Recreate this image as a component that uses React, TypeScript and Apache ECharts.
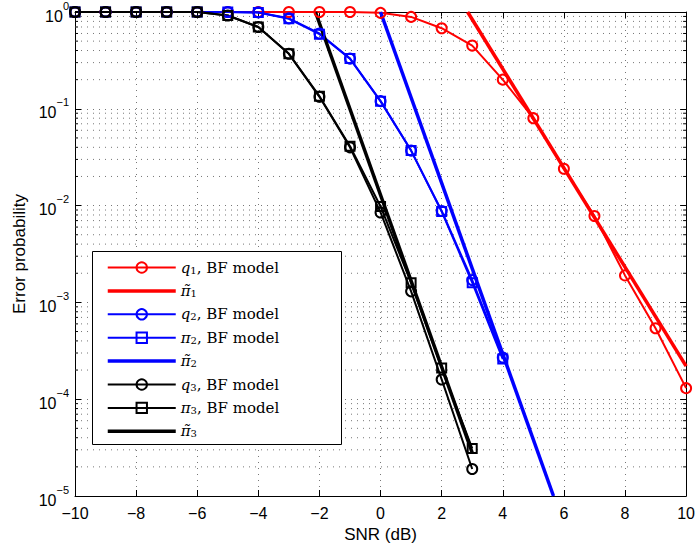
import React, { useEffect, useRef } from "react";
import * as echarts from "echarts";

const snr = [-10, -9, -8, -7, -6, -5, -4, -3, -2, -1, 0, 1, 2, 3, 4, 5, 6, 7, 8, 9, 10];
const q1Values = [1, 1, 1, 1, 1, 1, 1, 1, 1, 1, 0.98, 0.89, 0.68, 0.45, 0.2, 0.08, 0.024, 0.0078, 0.0019, 0.00054, 0.00013];
const q2Values = [1, 1, 1, 1, 1, 1, 0.99, 0.86, 0.6, 0.33, 0.12, 0.037, 0.0088, 0.0017, 0.00027];
const pi2Values = [1, 1, 1, 1, 1, 1, 0.99, 0.85, 0.59, 0.33, 0.12, 0.037, 0.0087, 0.0016, 0.00026];
const q3Values = [1, 1, 1, 1, 1, 0.92, 0.7, 0.37, 0.133, 0.04, 0.0085, 0.0013, 0.00016, 0.000019];
const pi3Values = [1, 1, 1, 1, 1, 0.92, 0.7, 0.37, 0.135, 0.041, 0.0098, 0.0016, 0.00021, 0.000031];
const piTilde1 = [[2.85, 1], [10, 0.00022]];
const piTilde2 = [[0, 1], [5.66, 0.00001]];
const piTilde3 = [[-2.13, 1], [3, 0.000028]];

const minorMantissas = [2, 3, 4, 5, 6, 7, 8, 9];
const minorDecades = [1e-5, 1e-4, 1e-3, 1e-2, 1e-1];
const yMinorTicks: number[] = [];
minorDecades.forEach((d) => minorMantissas.forEach((m) => yMinorTicks.push(m * d)));

const legendNames = [
  "q1, BF model",
  "π̃1",
  "q2, BF model",
  "π2, BF model",
  "π̃2",
  "q3, BF model",
  "π3, BF model",
  "π̃3",
];
const legendRich: Record<string, string> = {
  "q1, BF model": "{m|q}{s|1}{t|, BF model}",
  "π̃1": "{m|π̃}{s|1}",
  "q2, BF model": "{m|q}{s|2}{t|, BF model}",
  "π2, BF model": "{m|π}{s|2}{t|, BF model}",
  "π̃2": "{m|π̃}{s|2}",
  "q3, BF model": "{m|q}{s|3}{t|, BF model}",
  "π3, BF model": "{m|π}{s|3}{t|, BF model}",
  "π̃3": "{m|π̃}{s|3}",
};
const lineOnly = ["π̃1", "π̃2", "π̃3"];

const RED = "#ff0000";
const BLUE = "#0000ff";
const BLACK = "#000000";
const THIN = 2;
const THICK = 3.5;

function mk(name: string, pts: number[][], color: string, symbol: string, width: number) {
  return {
    type: "line",
    name,
    data: pts,
    color,
    symbol: symbol === "none" ? "circle" : symbol,
    symbolSize: symbol === "rect" ? 9 : 10,
    showSymbol: symbol !== "none",
    lineStyle: { color, width },
    itemStyle: { color: "rgba(0,0,0,0)", borderColor: color, borderWidth: 2 },
    clip: false,
    z: 2,
    silent: true,
    emphasis: { disabled: true },
  };
}

const zip = (ys: number[]) => ys.map((v, i) => [snr[i], v]);

export default function App() {
  const ref = useRef<HTMLDivElement>(null);
  useEffect(() => {
    document.body.style.margin = "0";
    const chart = echarts.init(ref.current!, null, { renderer: "svg" });
    const gridColor = "#777";
    const axisFont = "Liberation Sans";
    const boxLine = { show: true, onZero: false, lineStyle: { color: "#000", width: 1 } };
    const option: any = {
      animation: false,
      backgroundColor: "#fff",
      grid: { left: 75, right: 8, top: 12, bottom: 55 },
      xAxis: [
        {
          type: "value",
          min: -10,
          max: 10,
          interval: 2,
          name: "SNR (dB)",
          nameLocation: "middle",
          nameGap: 28,
          nameTextStyle: { fontFamily: axisFont, fontSize: 17, color: "#000" },
          axisLine: boxLine,
          axisTick: { show: true, inside: true, length: 6, lineStyle: { color: "#000" } },
          axisLabel: {
            margin: 9,
            fontFamily: axisFont,
            fontSize: 16,
            color: "#000",
            formatter: (v: number) => String(v).replace("-", "−"),
          },
          splitLine: { show: true, lineStyle: { color: gridColor, width: 1, type: [1, 5] } },
        },
        {
          type: "value",
          position: "top",
          min: -10,
          max: 10,
          interval: 2,
          axisLine: boxLine,
          axisTick: { show: true, inside: true, length: 6, lineStyle: { color: "#000" } },
          axisLabel: { show: false },
          splitLine: { show: false },
        },
      ],
      yAxis: [
        {
          type: "log",
          logBase: 10,
          min: 1e-5,
          max: 1,
          name: "Error probability",
          nameLocation: "middle",
          nameGap: 46,
          nameTextStyle: { fontFamily: axisFont, fontSize: 17, color: "#000" },
          axisLine: boxLine,
          axisTick: { show: true, inside: true, length: 6, lineStyle: { color: "#000" } },
          axisLabel: {
            margin: 6,
            formatter: (v: number) => {
              const e = Math.round(Math.log10(v));
              const s = e === 0 ? "0" : "−" + String(-e);
              return "{b|10}{s|" + s + "}";
            },
            rich: {
              b: { fontFamily: axisFont, fontSize: 16, color: "#000", lineHeight: 24, verticalAlign: "bottom" },
              s: { fontFamily: axisFont, fontSize: 11, color: "#000", lineHeight: 12, verticalAlign: "top" },
            },
          },
          splitLine: { show: true, lineStyle: { color: gridColor, width: 1, type: [1, 5] } },
        },
        {
          type: "log",
          logBase: 10,
          min: 1e-5,
          max: 1,
          position: "right",
          axisLine: boxLine,
          axisTick: { show: true, inside: true, length: 6, lineStyle: { color: "#000" } },
          axisLabel: { show: false },
          splitLine: { show: false },
        },
      ],
      legend: {
        data: legendNames.map((n) =>
          lineOnly.includes(n)
            ? {
                name: n,
                itemStyle: { color: "rgba(0,0,0,0)", borderColor: "rgba(0,0,0,0)", borderWidth: 0, opacity: 0 },
                lineStyle: { width: THICK },
              }
            : { name: n, lineStyle: { width: THIN } }
        ),
        orient: "vertical",
        left: 106,
        top: 259,
        padding: 0,
        itemWidth: 68,
        itemHeight: 13,
        itemGap: 7.4,
        selectedMode: false,
        z: 4,
        formatter: (name: string) => legendRich[name] || name,
        textStyle: {
          color: "#000",
          rich: {
            m: { fontFamily: "DejaVu Serif", fontStyle: "italic", fontSize: 15, lineHeight: 15, verticalAlign: "top", color: "#000" },
            s: { fontFamily: "DejaVu Serif", fontSize: 10, lineHeight: 10, padding: [6, 0, 0, 0], verticalAlign: "bottom", color: "#000" },
            t: { fontFamily: "DejaVu Serif", fontSize: 15, lineHeight: 15, verticalAlign: "top", color: "#000" },
          },
        },
      },
      graphic: [
        {
          type: "rect",
          z: 3,
          shape: { x: 92.5, y: 251.5, width: 249, height: 193 },
          style: { fill: "#fff", stroke: "#000", lineWidth: 1 },
          silent: true,
        },
      ],
      series: [
        {
          type: "custom",
          silent: true,
          z: 1,
          clip: false,
          data: yMinorTicks.map((v) => [-10, v]),
          encode: { x: 0, y: 1 },
          renderItem: (params: any, api: any) => {
            const y = api.value(1);
            const a = api.coord([-10, y]);
            const b = api.coord([10, y]);
            return {
              type: "group",
              children: [
                { type: "line", shape: { x1: a[0], y1: a[1], x2: b[0], y2: b[1] }, style: { stroke: gridColor, lineWidth: 1, lineDash: [1, 5] } },
                { type: "line", shape: { x1: a[0], y1: a[1], x2: a[0] + 3, y2: a[1] }, style: { stroke: "#000", lineWidth: 1 } },
                { type: "line", shape: { x1: b[0] - 3, y1: b[1], x2: b[0], y2: b[1] }, style: { stroke: "#000", lineWidth: 1 } },
              ],
            };
          },
        },
        mk(legendNames[0], zip(q1Values), RED, "circle", THIN),
        mk(legendNames[1], piTilde1, RED, "none", THICK),
        mk(legendNames[2], zip(q2Values), BLUE, "circle", THIN),
        mk(legendNames[3], zip(pi2Values), BLUE, "rect", THIN),
        mk(legendNames[4], piTilde2, BLUE, "none", THICK),
        mk(legendNames[5], zip(q3Values), BLACK, "circle", THIN),
        mk(legendNames[6], zip(pi3Values), BLACK, "rect", THIN),
        mk(legendNames[7], piTilde3, BLACK, "none", THICK),
      ],
    };
    chart.setOption(option);
    return () => chart.dispose();
  }, []);
  return <div ref={ref} style={{ width: 698, height: 551 }} />;
}
